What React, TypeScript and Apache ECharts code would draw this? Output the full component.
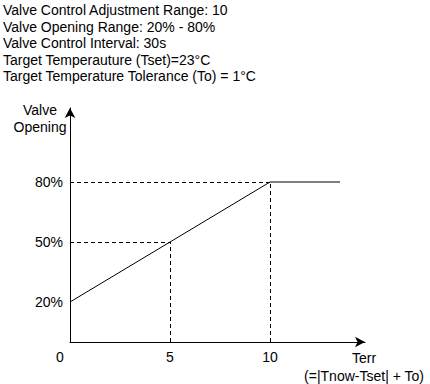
import React, { useEffect, useRef } from "react";
import * as echarts from "echarts";

const headerLines = [
  "Valve Control Adjustment Range: 10",
  "Valve Opening Range: 20% - 80%",
  "Valve Control Interval: 30s",
  "Target Temperauture (Tset)=23°C",
  "Target Temperature Tolerance (To) = 1°C",
];
const xTickLabels = [0, 5, 10];
const yTickLabels = [20, 50, 80];
const curve: [number, number][] = [
  [0, 20],
  [5, 50],
  [10, 80],
  [13.5, 80],
];
const guidePoints: [number, number][] = [
  [5, 50],
  [10, 80],
];
const yNameLines = ["Valve", "Opening"];
const xNameLines = ["Terr", "(=|Tnow-Tset| + To)"];

const FONT = "'Liberation Sans', Arial, Helvetica, sans-serif";
const FS = 14;
const TXT = "#000";

export default function App() {
  const ref = useRef<HTMLDivElement>(null);
  useEffect(() => {
    if (!ref.current) return;
    const chart = echarts.init(ref.current, undefined, { renderer: "svg" });
    const guides: any[] = [];
    guidePoints.forEach(([x, y]) => {
      guides.push([{ coord: [0, y] }, { coord: [x, y] }]);
      guides.push([{ coord: [x, 0] }, { coord: [x, y] }]);
    });
    const textEl = (text: string, x: number, y: number) => ({
      type: "text",
      x,
      y,
      style: {
        text,
        fill: TXT,
        font: `${FS}px ${FONT}`,
        align: "center",
        verticalAlign: "middle",
      },
    });
    chart.setOption({
      animation: false,
      backgroundColor: "#fff",
      title: {
        text: headerLines.join("\n"),
        left: 3,
        top: 2,
        padding: 0,
        textStyle: {
          fontFamily: FONT,
          fontSize: FS,
          fontWeight: "normal",
          color: TXT,
          lineHeight: 16.5,
        },
      },
      grid: { left: 70, right: 65, top: 108, bottom: 42, containLabel: false },
      xAxis: {
        type: "value",
        min: 0,
        max: 14.75,
        interval: 5,
        splitLine: { show: false },
        axisTick: { show: false },
        axisLine: {
          onZero: false,
          symbol: ["none", "arrow"],
          symbolSize: [8, 10],
          lineStyle: { color: "#000", width: 1 },
        },
        axisLabel: {
          margin: 8,
          fontFamily: FONT,
          fontSize: FS,
          color: TXT,
          showMaxLabel: false,
          formatter: (v: number) => {
            if (!xTickLabels.includes(v)) return "";
            if (v === 0) return "{z|" + v + "}";
            return String(v);
          },
          rich: {
            z: { fontFamily: FONT, fontSize: FS, color: TXT, padding: [0, 20, 0, 0] },
          },
        },
      },
      yAxis: {
        type: "value",
        min: 0,
        max: 117,
        interval: 10,
        splitLine: { show: false },
        axisTick: { show: false },
        axisLine: {
          onZero: false,
          symbol: ["none", "arrow"],
          symbolSize: [8, 10],
          lineStyle: { color: "#000", width: 1 },
        },
        axisLabel: {
          margin: 7,
          fontFamily: FONT,
          fontSize: FS,
          color: TXT,
          showMaxLabel: false,
          formatter: (v: number) => (yTickLabels.includes(v) ? v + "%" : ""),
        },
      },
      graphic: [
        textEl(yNameLines[0], 40, 110),
        textEl(yNameLines[1], 40, 127),
        textEl(xNameLines[0], 364, 358),
        textEl(xNameLines[1], 364, 376),
      ],
      series: [
        {
          type: "line",
          data: curve,
          symbol: "none",
          lineStyle: { color: "#000", width: 1 },
          silent: true,
          markLine: {
            silent: true,
            symbol: ["none", "none"],
            label: { show: false },
            lineStyle: { color: "#000", width: 1, type: [4, 3] },
            data: guides,
          },
        },
      ],
    });
    return () => chart.dispose();
  }, []);
  return (
    <div
      ref={ref}
      style={{ position: "absolute", left: 0, top: 0, width: 430, height: 384 }}
    />
  );
}
